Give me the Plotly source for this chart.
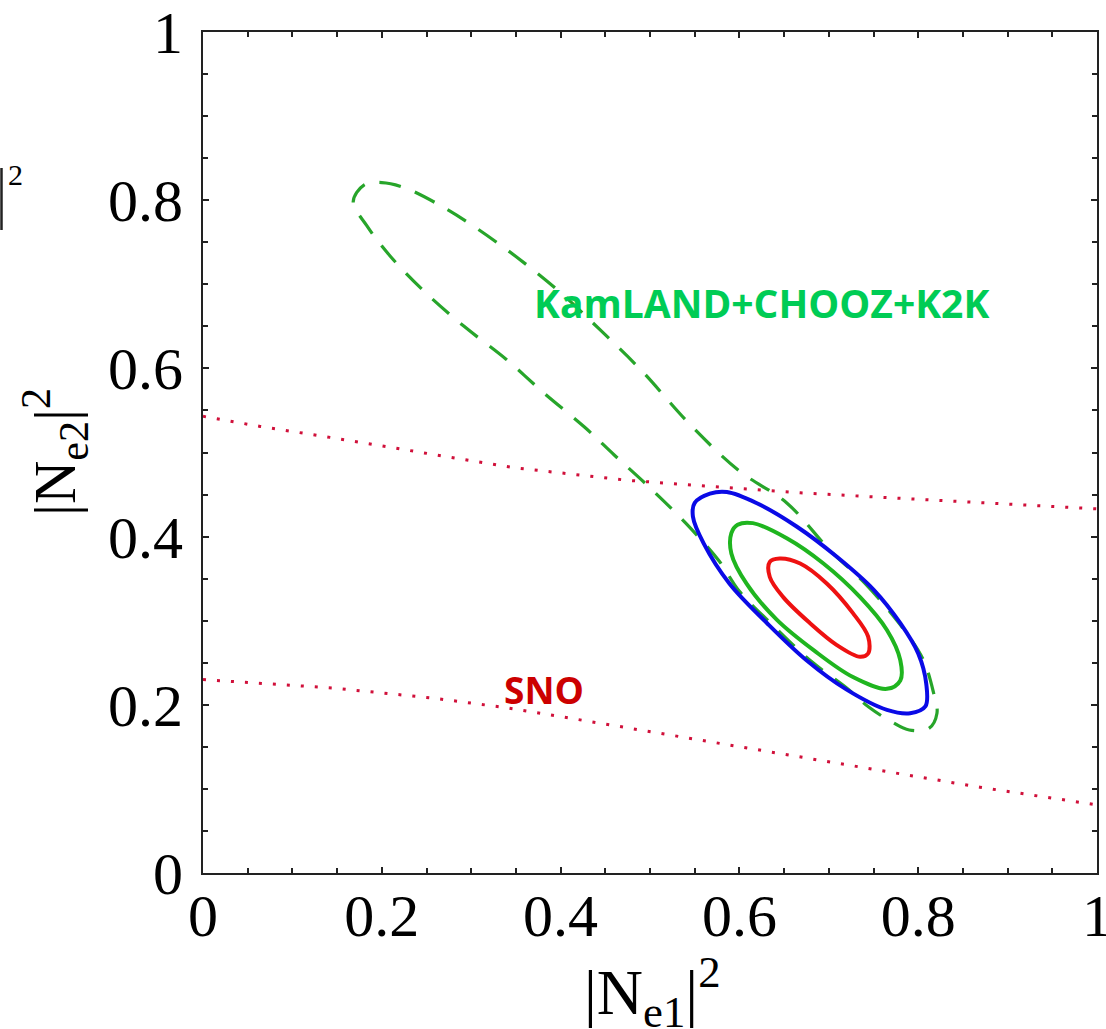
import plotly.graph_objects as go

# ---------------- data ----------------
kam_x = [0.701, 0.74, 0.78, 0.805, 0.817, 0.821, 0.812, 0.79, 0.77, 0.745, 0.72, 0.68, 0.64, 0.60,
         0.578, 0.54, 0.50, 0.46, 0.427, 0.381, 0.339, 0.292, 0.248, 0.209, 0.183, 0.168, 0.18,
         0.20, 0.225, 0.265, 0.30, 0.35, 0.40, 0.444, 0.49, 0.545, 0.60, 0.653, 0.701]
kam_y = [0.384, 0.345, 0.295, 0.255, 0.215, 0.19, 0.172, 0.17, 0.18, 0.197, 0.220, 0.252, 0.292, 0.335,
         0.370, 0.416, 0.458, 0.497, 0.530, 0.571, 0.611, 0.650, 0.691, 0.734, 0.77, 0.798, 0.818,
         0.821, 0.815, 0.794, 0.771, 0.733, 0.69, 0.646, 0.598, 0.533, 0.478, 0.44, 0.384]

blue_x = [0.550, 0.567, 0.586, 0.619, 0.664, 0.709, 0.750, 0.780, 0.800, 0.809, 0.808, 0.791,
          0.765, 0.720, 0.675, 0.631, 0.589, 0.560, 0.548, 0.550]
blue_y = [0.440, 0.451, 0.453, 0.440, 0.412, 0.376, 0.337, 0.297, 0.261, 0.225, 0.198, 0.190,
          0.194, 0.218, 0.253, 0.297, 0.344, 0.392, 0.424, 0.440]

green_x = [0.591, 0.598, 0.615, 0.653, 0.694, 0.735, 0.765, 0.780, 0.780, 0.765, 0.727, 0.683,
           0.642, 0.608, 0.591, 0.591]
green_y = [0.404, 0.414, 0.416, 0.398, 0.368, 0.328, 0.289, 0.253, 0.229, 0.219, 0.233, 0.265,
           0.301, 0.344, 0.380, 0.404]

red_x = [0.634, 0.645, 0.668, 0.698, 0.727, 0.744, 0.744, 0.735, 0.709, 0.679, 0.649, 0.634, 0.634]
red_y = [0.370, 0.374, 0.368, 0.344, 0.309, 0.281, 0.261, 0.257, 0.271, 0.297, 0.328, 0.352, 0.370]

sno_up_x = [0.0, 0.064, 0.142, 0.268, 0.347, 0.474, 0.668, 0.824, 1.0]
sno_up_y = [0.543, 0.531, 0.518, 0.496, 0.482, 0.467, 0.452, 0.443, 0.433]
sno_lo_x = [0.0, 0.145, 0.257, 0.336, 0.40, 0.49, 0.668, 0.869, 1.0]
sno_lo_y = [0.230, 0.220, 0.208, 0.197, 0.186, 0.170, 0.138, 0.102, 0.081]

tick_vals = [0, 0.2, 0.4, 0.6, 0.8, 1]
tick_text = ["0", "0.2", "0.4", "0.6", "0.8", "1"]

# ---------------- figure ----------------
fig = go.Figure()

fig.add_trace(go.Scatter(x=sno_up_x, y=sno_up_y, mode="lines",
                         line=dict(color="#d0103a", width=3, dash="3px,11px"), hoverinfo="skip"))
fig.add_trace(go.Scatter(x=sno_lo_x, y=sno_lo_y, mode="lines",
                         line=dict(color="#d0103a", width=3, dash="3px,11px"), hoverinfo="skip"))
fig.add_trace(go.Scatter(x=kam_x, y=kam_y, mode="lines", line_shape="spline",
                         line=dict(color="#27a52a", width=3.2, dash="22px,15px"), hoverinfo="skip"))
fig.add_trace(go.Scatter(x=blue_x, y=blue_y, mode="lines", line_shape="spline",
                         line=dict(color="#0a0ae6", width=4), hoverinfo="skip"))
fig.add_trace(go.Scatter(x=green_x, y=green_y, mode="lines", line_shape="spline",
                         line=dict(color="#1fb51f", width=4), hoverinfo="skip"))
fig.add_trace(go.Scatter(x=red_x, y=red_y, mode="lines", line_shape="spline",
                         line=dict(color="#ee1111", width=4), hoverinfo="skip"))

axis_common = dict(
    range=[0, 1], showgrid=False, zeroline=False,
    showline=True, linecolor="#222222", linewidth=2, mirror="ticks",
    ticks="inside", ticklen=6, tickwidth=2, tickcolor="#222222",
    tickvals=tick_vals, ticktext=tick_text,
    minor=dict(dtick=0.05, ticks="inside", ticklen=5, tickwidth=2, tickcolor="#222222", showgrid=False),
    tickfont=dict(family="Liberation Serif", size=60, color="black"),
    ticklabeloverflow="allow",
)

fig.update_xaxes(**axis_common, ticklabelstandoff=-11)
fig.update_yaxes(**axis_common, ticklabelstandoff=6)

fig.add_annotation(text="|N<sub>e1</sub>|<sup>2</sup>", xref="paper", yref="paper",
                   x=0.503, y=-0.142, xanchor="center", yanchor="middle",
                   showarrow=False, font=dict(family="Liberation Serif", size=64, color="black"))
fig.add_annotation(text="|N<sub>e2</sub>|<sup>2</sup>", xref="paper", yref="paper",
                   x=-0.166, y=0.50, xanchor="center", yanchor="middle", textangle=-90,
                   showarrow=False, font=dict(family="Liberation Serif", size=60, color="black"))

fig.add_annotation(text="<b>KamLAND+CHOOZ+K2K</b>", x=0.625, y=0.678, xref="x", yref="y",
                   showarrow=False, font=dict(family="Open Sans", size=39, color="#00cc55"))
fig.add_annotation(text="<b>SNO</b>", x=0.381, y=0.218, xref="x", yref="y",
                   showarrow=False, font=dict(family="Open Sans", size=37, color="#cc0000"))

# stray label fragment at the top-left edge
fig.add_shape(type="line", xref="paper", yref="paper",
              x0=(1.5 - 203) / 894, x1=(1.5 - 203) / 894,
              y0=(873 - 168) / 841, y1=(873 - 230) / 841,
              line=dict(color="#222222", width=2.5))
fig.add_annotation(text="2", xref="paper", yref="paper",
                   x=(15 - 203) / 894, y=(873 - 174) / 841, xanchor="center", yanchor="middle",
                   showarrow=False, font=dict(family="Liberation Serif", size=30, color="black"))

fig.update_layout(
    width=1106, height=1029,
    margin=dict(l=203, r=9, t=32, b=156, autoexpand=False),
    paper_bgcolor="white", plot_bgcolor="white",
    showlegend=False,
)

fig.write_html("out.html", config={"displayModeBar": False},
               post_script="document.body.style.margin='0';document.body.style.overflow='hidden';")
